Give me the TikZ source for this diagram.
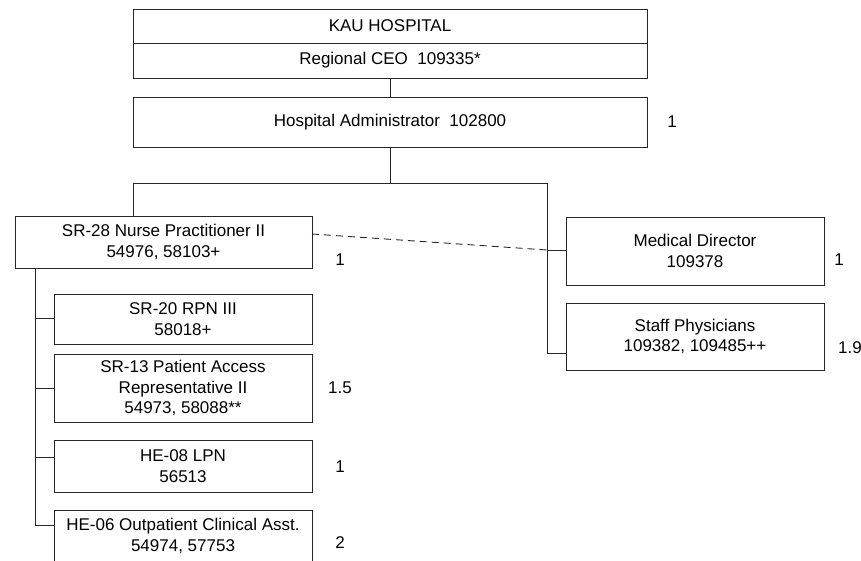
\documentclass[tikz,border=0pt]{standalone}
\usepackage{fontspec}
\setmainfont{Liberation Sans}
\begin{document}
\begin{tikzpicture}[x=1pt,y=-1pt,
  box/.style={draw=black!85, line width=0.9pt, inner sep=0pt, align=center, fill=white,
              font=\fontsize{17}{20.5}\selectfont},
  lab/.style={font=\fontsize{17}{20.5}\selectfont, inner sep=0pt},
  conn/.style={draw=black!85, line width=0.9pt},
  dconn/.style={draw=black!85, line width=0.9pt, dash pattern=on 7pt off 5pt}]
\useasboundingbox (0,0) rectangle (861,561);
\fill[white] (0,0) rectangle (861,561);
% top
\node[box, minimum width=514pt, minimum height=34pt] (kau) at (390,26) {KAU HOSPITAL};
\node[box, minimum width=514pt, minimum height=35pt] (ceo) at (390,60.5) {Regional CEO\ \ 109335*};
\node[box, minimum width=514pt, minimum height=50pt] (adm) at (390,122) {Hospital Administrator\ \ 102800};
\node[lab] (ladm) at (672,122) {1};
% second level
\node[box, minimum width=297pt, minimum height=52pt] (np) at (163.5,242) {SR-28 Nurse Practitioner II\\54976, 58103+};
\node[lab] (lnp) at (340,260) {1};
\node[box, minimum width=258pt, minimum height=68pt] (md) at (695,251) {Medical Director\\109378};
\node[lab] (lmd) at (839,260) {1};
\node[box, minimum width=258pt, minimum height=67pt] (sp) at (695,336.5) {Staff Physicians\\109382, 109485++};
\node[lab] (lsp) at (850,348) {1.9};
% left column
\node[box, minimum width=258pt, minimum height=50pt] (rpn) at (183,319) {SR-20 RPN III\\58018+};
\node[box, minimum width=258pt, minimum height=68pt] (par) at (183,388) {SR-13 Patient Access\\Representative II\\54973, 58088**};
\node[lab] (lpar) at (340,388) {1.5};
\node[box, minimum width=258pt, minimum height=52pt] (lpn) at (183,466) {HE-08 LPN\\56513};
\node[lab] (llpn) at (340,467) {1};
\node[box, minimum width=258pt, minimum height=52pt] (oca) at (183,536) {HE-06 Outpatient Clinical Asst.\\54974, 57753};
\node[lab] (loca) at (340,543) {2};
% connectors
\coordinate (hb) at (390,183);
\coordinate (bl) at (133,183);
\coordinate (br) at (547,183);
\coordinate (mdj) at (547,250);
\coordinate (spj) at (547,353);
\coordinate (npd) at (312,234);
\coordinate (j1) at (35,318);
\coordinate (j2) at (35,388);
\coordinate (j3) at (35,457);
\coordinate (j4) at (35,525);
\draw[conn] (ceo.south) -- (adm.north);
\draw[conn] (adm.south) -- (hb);
\draw[conn] (bl) -- (br);
\draw[conn] (bl) -- (bl |- np.north);
\draw[conn] (br) -- (spj) -- (spj -| sp.west);
\draw[conn] (mdj) -- (mdj -| md.west);
\draw[dconn] (npd) -- (mdj);
\draw[conn] (np.south -| j4) -- (j4) -- (j4 -| oca.west);
\draw[conn] (j1) -- (j1 -| rpn.west);
\draw[conn] (j2) -- (j2 -| par.west);
\draw[conn] (j3) -- (j3 -| lpn.west);
\end{tikzpicture}
\end{document}
